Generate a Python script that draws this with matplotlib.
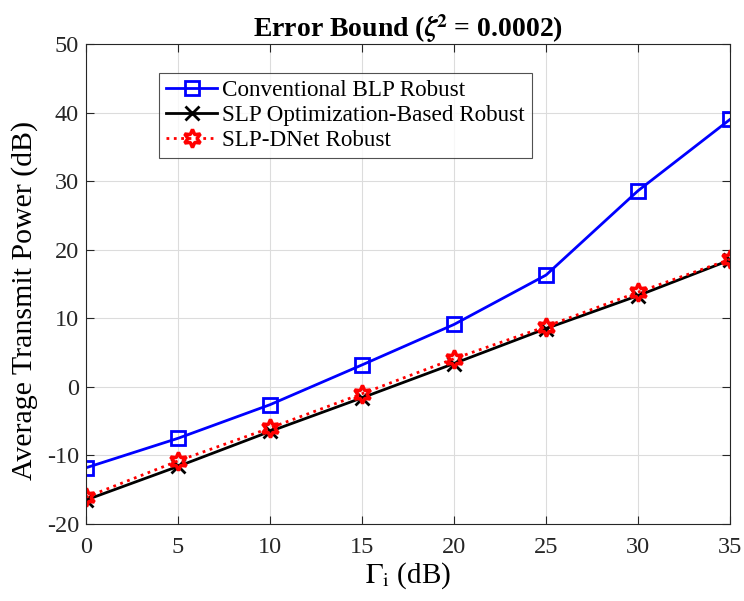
import matplotlib
matplotlib.use("Agg")
import matplotlib.pyplot as plt

plt.rcParams['font.family'] = ['Liberation Serif', 'DejaVu Serif']
plt.rcParams['mathtext.fontset'] = 'stix'
plt.rcParams['axes.unicode_minus'] = False

# SINR threshold (dB)
gamma_db = [0, 5, 10, 15, 20, 25, 30, 35]

# average transmit power (dB)
blp_robust = [-11.8, -7.5, -2.6, 3.2, 9.1, 16.3, 28.6, 39.0]
slp_opt_robust = [-16.5, -11.6, -6.5, -1.6, 3.4, 8.5, 13.3, 18.5]
slp_dnet_robust = [-16.1, -10.8, -6.0, -1.0, 4.1, 8.8, 13.8, 18.6]

fig = plt.figure(figsize=(7.44, 6.01), dpi=100)
ax = fig.add_axes([0.1156, 0.1281, 0.8656, 0.7987])

ax.plot(gamma_db, blp_robust, color='#0000ff', lw=2, marker='s', ms=10,
        mfc='none', mew=2, label='Conventional BLP Robust')
ax.plot(gamma_db, slp_opt_robust, color='black', lw=2, marker='x', ms=10,
        mew=2, label='SLP Optimization-Based Robust')
ax.plot(gamma_db, slp_dnet_robust, color='red', lw=2, ls=':', marker=(6, 1, 0),
        ms=13, mfc='none', mew=2.5, label='SLP-DNet Robust')

ax.set_xlim(0, 35)
ax.set_ylim(-20, 50)
ax.set_xticks(range(0, 36, 5))
ax.set_yticks(range(-20, 51, 10))
ax.grid(True, color='#dcdcdc', lw=0.8)
ax.set_axisbelow(True)

for s in ax.spines.values():
    s.set_color('#262626')
    s.set_linewidth(0.8)
ax.tick_params(direction='in', labelsize=17.5, colors='#262626',
               top=True, right=True, length=6)
ax.tick_params(axis='x', pad=9)
ax.tick_params(axis='y', pad=5)

ax.set_xlabel(r'$\Gamma_{\mathrm{i}}$ (dB)', fontsize=21, labelpad=2)
ax.set_ylabel('Average Transmit Power (dB)', fontsize=21.5)
ax.yaxis.set_label_coords(-0.0745, 0.465)
ax.set_title(r'Error Bound ($\boldsymbol{\zeta}^{\mathbf{2}}$ = 0.0002)',
             fontsize=20, fontweight='bold', pad=5)

leg = ax.legend(loc='upper left', bbox_to_anchor=(0.114, 0.94), fontsize=16.7,
                frameon=True, fancybox=False, edgecolor='#262626',
                handlelength=2.2, handletextpad=0.2, borderpad=0.3,
                labelspacing=0.17, borderaxespad=0)
leg.get_frame().set_linewidth(0.8)

fig.savefig('out.png', dpi=100)
